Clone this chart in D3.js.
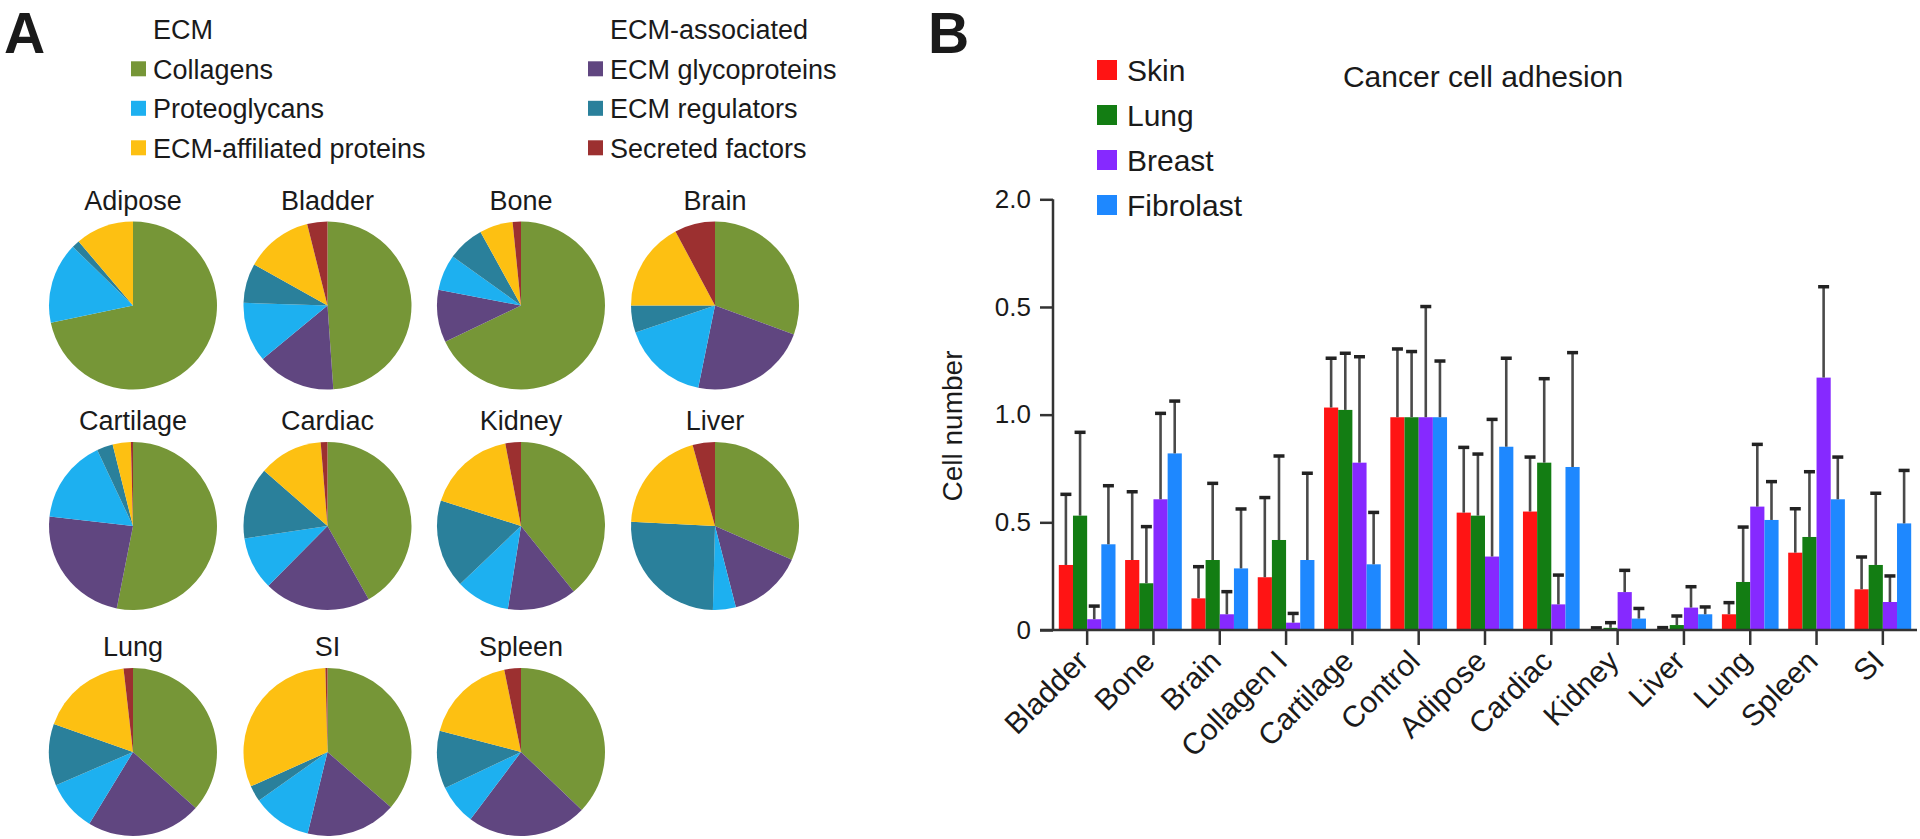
<!DOCTYPE html>
<html><head><meta charset="utf-8">
<script src="https://cdn.jsdelivr.net/npm/d3@7"></script>
<style>
body{margin:0;background:#fff}
svg{display:block}
text{font-family:"Liberation Sans",Arial,Helvetica,sans-serif;fill:#1a1a1a}
</style>
</head><body>
<svg id="fig" width="1920" height="839"></svg>
<script>
// ---------- Panel A data (percent of matrisome) ----------
const tissues = ["Adipose","Bladder","Bone","Brain","Cartilage","Cardiac","Kidney","Liver","Lung","SI","Spleen"];
const components = ["Collagens","ECM glycoproteins","Proteoglycans","ECM regulators","ECM-affiliated proteins","Secreted factors"];
const componentColors = ["#769637","#604680","#1db0f0","#2a809b","#fdc012","#9c3030"];
const collagens     = [71.7, 48.9, 67.9, 30.6, 53.1, 41.9, 39.2, 31.6, 36.6, 36.4, 37.1];
const glycoproteins = [ 0.0, 15.1, 10.1, 22.6, 23.7, 20.6, 13.3, 14.4, 22.1, 17.4, 23.1];
const proteoglycans = [15.6, 11.5,  6.9, 16.6, 16.2, 10.2, 10.4,  4.4,  9.8, 11.4,  7.7];
const regulators    = [ 1.5,  7.6,  7.1,  5.2,  3.1, 13.8, 17.0, 25.4, 11.9,  3.1, 11.1];
const affiliated    = [11.2, 13.0,  6.4, 17.2,  3.5, 12.3, 17.1, 19.9, 17.8, 31.3, 17.7];
const secreted      = [ 0.0,  3.9,  1.6,  7.8,  0.4,  1.3,  3.0,  4.3,  1.8,  0.4,  3.2];
const legendHeaders = ["ECM","ECM-associated"];
const legendColumns = [["Collagens","Proteoglycans","ECM-affiliated proteins"],
                       ["ECM glycoproteins","ECM regulators","Secreted factors"]];

// ---------- Panel B data ----------
const categories = ["Bladder","Bone","Brain","Collagen I","Cartilage","Control","Adipose","Cardiac","Kidney","Liver","Lung","Spleen","SI"];
const seriesNames = ["Skin","Lung","Breast","Fibrolast"];
const seriesColors = ["#ff1414","#137d13","#8629ff","#1e88ff"];
const skin      = [0.302,0.325,0.147,0.245,1.033,0.988,0.545,0.550,0.005,0.005,0.073,0.359,0.189];
const skinSD    = [0.328,0.317,0.147,0.370,0.229,0.317,0.303,0.253,0.005,0.006,0.054,0.204,0.150];
const lung      = [0.531,0.217,0.325,0.418,1.022,0.988,0.531,0.777,0.010,0.023,0.223,0.432,0.302];
const lungSD    = [0.387,0.263,0.356,0.390,0.263,0.305,0.286,0.390,0.024,0.042,0.255,0.303,0.333];
const breast    = [0.050,0.607,0.073,0.034,0.777,0.988,0.341,0.119,0.176,0.104,0.573,1.172,0.130];
const breastSD  = [0.061,0.399,0.105,0.043,0.492,0.514,0.637,0.136,0.101,0.097,0.289,0.422,0.121];
const fibro     = [0.398,0.820,0.286,0.325,0.305,0.988,0.851,0.757,0.053,0.073,0.511,0.607,0.495];
const fibroSD   = [0.272,0.243,0.276,0.403,0.241,0.261,0.411,0.531,0.047,0.034,0.178,0.196,0.246];
const yTickValues = [0, 0.5, 1.0, 1.5, 2.0];
const yTickLabels = ["0","0.5","1.0","0.5","2.0"];

const svg = d3.select("#fig");

// ================= Panel A =================
svg.append("text").attr("x",4).attr("y",53).attr("font-size",57).attr("font-weight","bold").text("A");

const legA = svg.append("g");
const legColX = [131, 588];
legendHeaders.forEach((h,ci)=>{
  legA.append("text").attr("x",legColX[ci]+22).attr("y",38.5).attr("font-size",27).text(h);
  legendColumns[ci].forEach((name,ri)=>{
    const y = 78.5 + ri*39.5;
    const col = componentColors[components.indexOf(name)];
    legA.append("rect").attr("x",legColX[ci]).attr("y",y-9.7-7.5).attr("width",15).attr("height",15).attr("fill",col);
    legA.append("text").attr("x",legColX[ci]+22).attr("y",y).attr("font-size",27).text(name);
  });
});

const pieCols = [133, 327.5, 521, 715];
const pieRows = [305.5, 526, 752];
const pieR = 84;
const pie = d3.pie().sort(null).value(d=>d);
const arc = d3.arc().innerRadius(0).outerRadius(pieR);
tissues.forEach((t,i)=>{
  const cx = pieCols[i%4], cy = pieRows[Math.floor(i/4)];
  const vals = [collagens[i],glycoproteins[i],proteoglycans[i],regulators[i],affiliated[i],secreted[i]];
  const g = svg.append("g").attr("transform",`translate(${cx},${cy})`);
  g.selectAll("path").data(pie(vals)).join("path")
    .attr("d",arc).attr("fill",(d,k)=>componentColors[k]);
  svg.append("text").attr("x",cx).attr("y",cy-pieR-12).attr("text-anchor","middle")
    .attr("font-size",27).text(t);
});

// ================= Panel B =================
svg.append("text").attr("x",928).attr("y",53).attr("font-size",57).attr("font-weight","bold").text("B");

const y0 = 630, y2 = 199.3, axisX = 1053;
const y = d3.scaleLinear().domain([0,2]).range([y0,y2]);
const x = d3.scaleBand().domain(categories).range([axisX+1, 1916]).paddingInner(0.145).paddingOuter(0.0725);
const xs = d3.scaleBand().domain(seriesNames).range([0, x.bandwidth()]);

const means = [skin, lung, breast, fibro];
const sds = [skinSD, lungSD, breastSD, fibroSD];
const barData = [];
categories.forEach((c,i)=>seriesNames.forEach((s,j)=>barData.push({c,s,j,v:means[j][i],sd:sds[j][i]})));

const gb = svg.append("g");
gb.selectAll("rect.bar").data(barData).join("rect").attr("class","bar")
  .attr("x",d=>x(d.c)+xs(d.s)).attr("width",xs.bandwidth())
  .attr("y",d=>y(d.v)).attr("height",d=>y(0)-y(d.v))
  .attr("fill",d=>seriesColors[d.j]);

const eb = gb.selectAll("g.err").data(barData).join("g").attr("class","err");
eb.append("line")
  .attr("x1",d=>x(d.c)+xs(d.s)+xs.bandwidth()/2).attr("x2",d=>x(d.c)+xs(d.s)+xs.bandwidth()/2)
  .attr("y1",d=>y(d.v)).attr("y2",d=>y(d.v+d.sd))
  .attr("stroke","#4a4a4a").attr("stroke-width",2.6);
eb.append("line")
  .attr("x1",d=>x(d.c)+xs(d.s)+xs.bandwidth()/2-5.5).attr("x2",d=>x(d.c)+xs(d.s)+xs.bandwidth()/2+5.5)
  .attr("y1",d=>y(d.v+d.sd)).attr("y2",d=>y(d.v+d.sd))
  .attr("stroke","#222").attr("stroke-width",3.5);

// y axis
const yAxis = d3.axisLeft(y).tickValues(yTickValues).tickSize(13).tickPadding(9)
  .tickFormat((d,i)=>yTickLabels[i]);
const gy = svg.append("g").attr("transform",`translate(${axisX},0)`).call(yAxis);
gy.select(".domain").attr("d",`M0,${y2}V${y0}`).attr("stroke","#333").attr("stroke-width",2.5);
gy.selectAll(".tick line").attr("stroke","#333").attr("stroke-width",2.5);
gy.selectAll(".tick text").attr("font-size",26).attr("fill","#1a1a1a")
  .attr("font-family","'Liberation Sans',Arial,sans-serif");

// x axis
const xAxis = d3.axisBottom(x).tickSize(15).tickFormat(d=>d);
const gx = svg.append("g").attr("transform",`translate(0,${y0})`).call(xAxis);
gx.select(".domain").attr("d",`M${axisX-13},0H1917`).attr("stroke","#333").attr("stroke-width",2.5);
gx.selectAll(".tick line").attr("stroke","#333").attr("stroke-width",2.5);
gx.selectAll(".tick text").attr("font-size",30).attr("fill","#1a1a1a")
  .attr("font-family","'Liberation Sans',Arial,sans-serif")
  .attr("text-anchor","end").attr("dy",0).attr("y",0)
  .attr("transform","translate(3,33) rotate(-45)");

// y label
svg.append("text").attr("transform","translate(955,426) rotate(-90)")
  .attr("text-anchor","middle").attr("dominant-baseline","middle").attr("font-size",28).text("Cell number");

// title
svg.append("text").attr("x",1483).attr("y",87).attr("text-anchor","middle").attr("font-size",30).text("Cancer cell adhesion");

// legend B
seriesNames.forEach((s,i)=>{
  const cyL = 70 + i*45;
  svg.append("rect").attr("x",1097).attr("y",cyL-10).attr("width",20).attr("height",20).attr("fill",seriesColors[i]);
  svg.append("text").attr("x",1127).attr("y",cyL+10.5).attr("font-size",30).text(s);
});
</script>
</body></html>
